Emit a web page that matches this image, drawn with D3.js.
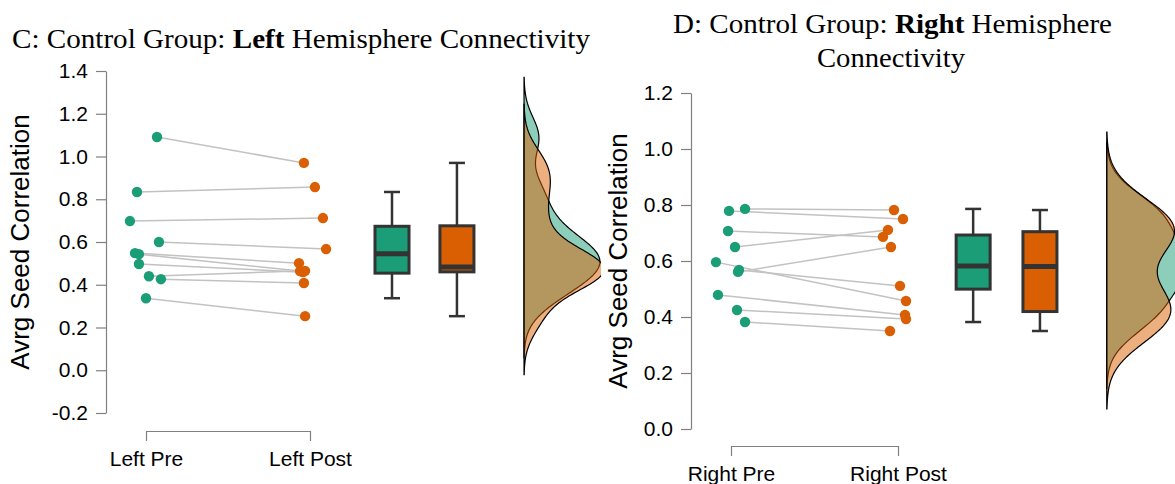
<!DOCTYPE html>
<html>
<head>
<meta charset="utf-8">
<script src="https://cdn.jsdelivr.net/npm/d3@7"></script>
<style>
  body { margin: 0; background: #fff; }
  svg { display: block; }
  .tick text { font-family: "Liberation Sans", Arial, sans-serif; fill: #000; }
</style>
</head>
<body>
<svg></svg>
<script>
const [svgWidth, svgHeight] = [1175, 484];

// Panel C: left hemisphere (pre/post paired values)
const leftCategories = ["Left Pre", "Left Post"];
const leftPre = [1.091, 0.834, 0.698, 0.600, 0.548, 0.543, 0.497, 0.440, 0.426, 0.337];
const leftPost = [0.970, 0.857, 0.712, 0.567, 0.501, 0.464, 0.459, 0.465, 0.408, 0.253];
// horizontal jitter of each dot, in category units
const leftPreJitter = [0.067, -0.055, -0.098, 0.079, -0.067, -0.043, -0.043, 0.018, 0.091, 0];
const leftPostJitter = [-0.037, 0.03, 0.079, 0.098, -0.067, -0.061, -0.043, -0.03, -0.037, -0.03];
const leftTicks = [-0.2, 0, 0.2, 0.4, 0.6, 0.8, 1.0, 1.2, 1.4];

// Panel D: right hemisphere
const rightCategories = ["Right Pre", "Right Post"];
const rightPre = [0.779, 0.786, 0.707, 0.650, 0.596, 0.561, 0.568, 0.479, 0.425, 0.382];
const rightPost = [0.750, 0.782, 0.686, 0.711, 0.457, 0.650, 0.511, 0.407, 0.393, 0.350];
const rightPreJitter = [-0.012, 0.084, -0.018, 0.024, -0.09, 0.042, 0.048, -0.078, 0.036, 0.084];
const rightPostJitter = [0.03, -0.024, -0.09, -0.06, 0.048, -0.042, 0.012, 0.042, 0.048, -0.048];
const rightTicks = [0, 0.2, 0.4, 0.6, 0.8, 1.0, 1.2];

const colors = ["#1b9e77", "#d95f02"];
const sansFont = '"Liberation Sans", Arial, sans-serif';
const serifFont = '"Liberation Serif", "Times New Roman", serif';

const svg = d3.select("svg")
    .attr("width", svgWidth)
    .attr("height", svgHeight);

svg.append("defs").append("clipPath")
    .attr("id", "clip-left")
    .append("rect")
    .attr("x", 0).attr("y", 0)
    .attr("width", 601).attr("height", svgHeight);

// gaussian kde with R's bw.nrd0 bandwidth, evaluated over range +- 3 bw
function kde(values) {
    const sorted = values.slice().sort(d3.ascending);
    const iqr = d3.quantile(sorted, 0.75) - d3.quantile(sorted, 0.25);
    const bw = 0.9 * Math.min(d3.deviation(values), iqr / 1.34) * Math.pow(values.length, -0.2);
    const lo = d3.min(values) - 3 * bw;
    const hi = d3.max(values) + 3 * bw;
    return d3.range(201).map(i => {
        const y = lo + (hi - lo) * i / 200;
        const dens = d3.mean(values, v => Math.exp(-0.5 * ((y - v) / bw) ** 2)) / (bw * Math.sqrt(2 * Math.PI));
        return [y, dens];
    });
}

function boxStats(values) {
    const s = values.slice().sort(d3.ascending);
    const q1 = d3.quantile(s, 0.25), q3 = d3.quantile(s, 0.75);
    const iqr = q3 - q1;
    return {
        q1, q3,
        median: d3.quantile(s, 0.5),
        lo: d3.min(s.filter(v => v >= q1 - 1.5 * iqr)),
        hi: d3.max(s.filter(v => v <= q3 + 1.5 * iqr))
    };
}

function drawPanel(cfg) {
    const g = svg.append("g");
    if (cfg.clip) g.attr("clip-path", `url(#${cfg.clip})`);

    const yScale = d3.scaleLinear()
        .domain(d3.extent(cfg.ticks))
        .range(cfg.yRange);

    const xScale = d3.scaleLinear()
        .domain([0, 1])
        .range(cfg.xRange);

    // y axis
    const yAxis = g.append("g")
        .attr("transform", `translate(${cfg.axisX},0)`)
        .call(d3.axisLeft(yScale)
            .tickValues(cfg.ticks)
            .tickFormat(d => d.toFixed(1))
            .tickSize(10)
            .tickSizeOuter(0)
            .tickPadding(8));
    yAxis.selectAll("path, line").attr("stroke", "#808080").attr("stroke-width", 1.2);
    yAxis.selectAll("text").attr("font-size", 21);

    g.append("text")
        .attr("transform", `translate(${cfg.titleX},${d3.mean(cfg.yRange)}) rotate(-90)`)
        .attr("text-anchor", "middle")
        .attr("font-family", sansFont)
        .attr("font-size", 26)
        .text("Avrg Seed Correlation");

    // x bracket axis
    const xAxis = g.append("g")
        .attr("transform", `translate(0,${cfg.xAxisY})`)
        .call(d3.axisBottom(xScale)
            .tickValues([0, 1])
            .tickFormat(i => cfg.categories[i])
            .tickSize(10)
            .tickSizeOuter(0)
            .tickPadding(10));
    xAxis.selectAll("path, line").attr("stroke", "#808080").attr("stroke-width", 1.2);
    xAxis.selectAll("text").attr("font-size", 21);

    // half violins
    const dens = cfg.series.map(kde);
    const wScale = d3.scaleLinear()
        .domain([0, d3.max(dens.flat(), d => d[1])])
        .range([0, 80]);
    const base = xScale(cfg.densX);
    const area = d3.area()
        .y(d => yScale(d[0]))
        .x0(base)
        .x1(d => base + wScale(d[1]));
    g.selectAll(".dens")
        .data(dens)
        .join("path")
        .attr("d", area)
        .attr("fill", (d, i) => colors[i])
        .attr("fill-opacity", 0.5)
        .attr("stroke", "#000")
        .attr("stroke-width", 1.2);

    // boxplots
    cfg.series.forEach((vals, i) => {
        const st = boxStats(vals);
        const cx = xScale(cfg.boxX[i]);
        const bw = 34, cap = 16;
        const bg = g.append("g");
        bg.append("line")
            .attr("x1", cx).attr("x2", cx)
            .attr("y1", yScale(st.hi)).attr("y2", yScale(st.lo))
            .attr("stroke", "#333").attr("stroke-width", 2.5);
        [st.hi, st.lo].forEach(v => {
            bg.append("line")
                .attr("x1", cx - cap / 2).attr("x2", cx + cap / 2)
                .attr("y1", yScale(v)).attr("y2", yScale(v))
                .attr("stroke", "#333").attr("stroke-width", 2.5);
        });
        bg.append("rect")
            .attr("x", cx - bw / 2)
            .attr("y", yScale(st.q3))
            .attr("width", bw)
            .attr("height", yScale(st.q1) - yScale(st.q3))
            .attr("fill", colors[i])
            .attr("stroke", "#333")
            .attr("stroke-width", 3);
        bg.append("line")
            .attr("x1", cx - bw / 2).attr("x2", cx + bw / 2)
            .attr("y1", yScale(st.median)).attr("y2", yScale(st.median))
            .attr("stroke", "#333").attr("stroke-width", 5);
    });

    // paired lines and dots
    const pairs = cfg.series[0].map((v, k) => ({
        pre: v, post: cfg.series[1][k],
        jPre: cfg.jitter[0][k], jPost: cfg.jitter[1][k]
    }));
    g.selectAll(".pair")
        .data(pairs)
        .join("line")
        .attr("x1", d => xScale(d.jPre))
        .attr("y1", d => yScale(d.pre))
        .attr("x2", d => xScale(1 + d.jPost))
        .attr("y2", d => yScale(d.post))
        .attr("stroke", "#c2c2c2")
        .attr("stroke-width", 1.5);

    cfg.series.forEach((vals, i) => {
        g.selectAll(null)
            .data(vals)
            .join("circle")
            .attr("cx", (d, k) => xScale(i + cfg.jitter[i][k]))
            .attr("cy", d => yScale(d))
            .attr("r", 5.2)
            .attr("fill", colors[i]);
    });
}

drawPanel({
    categories: leftCategories,
    series: [leftPre, leftPost],
    jitter: [leftPreJitter, leftPostJitter],
    ticks: leftTicks,
    yRange: [413, 71],
    xRange: [146, 310],
    axisX: 106,
    xAxisY: 431,
    titleX: 29,
    boxX: [1.5, 1.896],
    densX: 2.305,
    clip: "clip-left"
});

drawPanel({
    categories: rightCategories,
    series: [rightPre, rightPost],
    jitter: [rightPreJitter, rightPostJitter],
    ticks: rightTicks,
    yRange: [429, 93],
    xRange: [731, 898],
    axisX: 691,
    xAxisY: 446,
    titleX: 627,
    boxX: [1.45, 1.85],
    densX: 2.25
});

// panel titles (stretched to the width of the book-style serif in the original)
const t1 = svg.append("text")
    .attr("x", 12).attr("y", 48)
    .attr("font-family", serifFont)
    .attr("font-size", 27)
    .attr("textLength", 578)
    .attr("lengthAdjust", "spacingAndGlyphs");
t1.append("tspan").text("C: Control Group: ");
t1.append("tspan").attr("font-weight", "bold").text("Left");
t1.append("tspan").text(" Hemisphere Connectivity");

const t2 = svg.append("text")
    .attr("x", 673).attr("y", 33)
    .attr("font-family", serifFont)
    .attr("font-size", 27)
    .attr("textLength", 439)
    .attr("lengthAdjust", "spacingAndGlyphs");
t2.append("tspan").text("D: Control Group: ");
t2.append("tspan").attr("font-weight", "bold").text("Right");
t2.append("tspan").text(" Hemisphere");

svg.append("text")
    .attr("x", 817).attr("y", 67)
    .attr("font-family", serifFont)
    .attr("font-size", 27)
    .attr("textLength", 148)
    .attr("lengthAdjust", "spacingAndGlyphs")
    .text("Connectivity");
</script>
</body>
</html>
